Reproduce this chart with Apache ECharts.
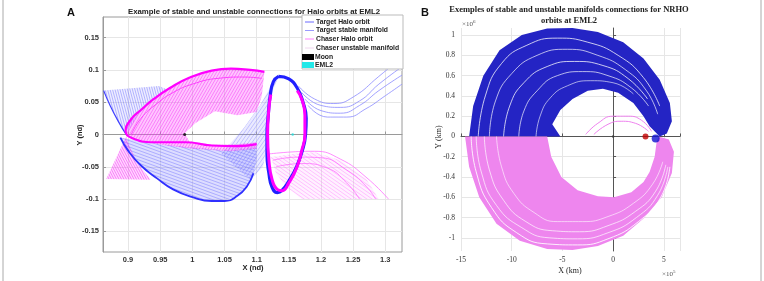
<!DOCTYPE html>
<html><head><meta charset="utf-8">
<script src="https://cdn.jsdelivr.net/npm/echarts@6/dist/echarts.min.js"></script>
<style>html,body{margin:0;padding:0;background:#fff}#c{width:764px;height:281px}</style>
</head><body><div id="c"></div>
<script>
// ---------- Panel A data (nondimensional) ----------
const A_xTicks = [0.9, 0.95, 1, 1.05, 1.1, 1.15, 1.2, 1.25, 1.3];
const A_yTicks = [-0.15, -0.1, -0.05, 0, 0.05, 0.1, 0.15];
const A_moon = [[0.988, 0]];
const A_eml2 = [[1.156, 0]];
const A_targetHalo = [[1.134,0.09],[1.15,0.086],[1.163,0.072],[1.172,0.05],[1.177,0.025],[1.176,0],[1.171,-0.025],[1.162,-0.05],[1.15,-0.072],[1.139,-0.087],[1.132,-0.09],[1.124,-0.082],[1.119,-0.06],[1.116,-0.03],[1.116,0],[1.118,0.03],[1.121,0.06],[1.126,0.082],[1.134,0.09]];
const A_chaserHalo = [[1.122,0.062],[1.119,0.04],[1.117,0],[1.119,-0.04],[1.124,-0.07],[1.132,-0.085],[1.14,-0.087],[1.15,-0.075],[1.162,-0.052],[1.17,-0.025],[1.175,0],[1.175,0.03],[1.17,0.055],[1.163,0.068]];
const A_stableLower = [[0.888,-0.005],[0.9,-0.025],[0.92,-0.048],[0.945,-0.068],[0.97,-0.085],[1.0,-0.097],[1.03,-0.103],[1.05,-0.103],[1.07,-0.095],[1.085,-0.08],[1.095,-0.06],[1.1,-0.04],[1.1,-0.02],[1.06,-0.025],[1.0,-0.02],[0.95,-0.015],[0.91,-0.008]];
const A_stableEdge = [[0.888,-0.005],[0.9,-0.025],[0.92,-0.048],[0.945,-0.068],[0.97,-0.085],[1.0,-0.097],[1.03,-0.103],[1.05,-0.103],[1.07,-0.095],[1.085,-0.08],[1.095,-0.06]];
const A_stableFan = [[0.862,0.068],[0.948,0.075],[0.96,0.07],[0.935,0.05],[0.915,0.03],[0.897,0],[0.885,0.02],[0.872,0.045]];
const A_stableFanEdge = [[0.862,0.068],[0.872,0.045],[0.885,0.02],[0.897,0]];
const A_stableDiag = [[1.045,-0.03],[1.08,0.01],[1.105,0.045],[1.125,0.08],[1.134,0.09],[1.122,0.06],[1.117,0.02],[1.115,-0.02],[1.11,-0.05],[1.09,-0.07]];
const A_stableR1 = [[1.165,0.075],[1.19,0.055],[1.22,0.048],[1.25,0.058],[1.29,0.09],[1.326,0.12]];
const A_stableR2 = [[1.17,0.065],[1.2,0.045],[1.23,0.042],[1.26,0.052],[1.29,0.078],[1.326,0.105]];
const A_stableR3 = [[1.175,0.055],[1.2,0.037],[1.23,0.033],[1.26,0.045],[1.29,0.068],[1.326,0.092]];
const A_stableR4 = [[1.18,0.045],[1.21,0.027],[1.24,0.027],[1.27,0.04],[1.3,0.06],[1.326,0.078]];
const A_unstableArc = [[1.1,-0.015],[1.07,-0.018],[1.03,-0.017],[0.99,-0.012],[0.94,-0.012],[0.905,-0.005],[0.896,0.006],[0.905,0.024],[0.92,0.038],[0.94,0.055],[0.965,0.072],[0.995,0.088],[1.03,0.099],[1.06,0.102],[1.09,0.1],[1.112,0.097]];
const A_unstableArc2 = [[0.905,0.0],[0.92,0.025],[0.945,0.048],[0.97,0.065],[1.0,0.078],[1.04,0.087],[1.08,0.089],[1.108,0.087]];
const A_unstableFan = [[0.896,0.006],[0.905,0.024],[0.92,0.038],[0.94,0.055],[0.965,0.072],[0.995,0.088],[1.03,0.099],[1.06,0.102],[1.09,0.1],[1.112,0.097],[1.108,0.06],[1.1,0.035],[1.07,0.03],[1.035,0.036],[1.005,0.018],[0.988,0.002],[0.995,-0.01],[1.03,-0.016],[1.07,-0.015],[1.1,-0.012],[1.1,-0.022],[1.06,-0.026],[1.0,-0.022],[0.96,-0.017],[0.93,-0.012],[0.905,-0.006]];
const A_unstableTri = [[0.866,-0.069],[0.897,-0.003],[0.903,-0.02],[0.915,-0.045],[0.935,-0.07]];
const A_unstableTail = [[1.122,-0.035],[1.16,-0.03],[1.19,-0.027],[1.23,-0.04],[1.27,-0.068],[1.29,-0.1],[1.17,-0.1],[1.145,-0.08],[1.13,-0.06]];
const A_tail1 = [[1.12,-0.03],[1.155,-0.027],[1.19,-0.026],[1.23,-0.038],[1.27,-0.066],[1.305,-0.1]];
const A_tail2 = [[1.125,-0.04],[1.165,-0.035],[1.2,-0.036],[1.24,-0.055],[1.27,-0.08],[1.285,-0.1]];
const A_tail3 = [[1.13,-0.05],[1.17,-0.045],[1.21,-0.052],[1.24,-0.075],[1.26,-0.1]];

// ---------- Panel B data (x: 1e5 km, y: 1e6 km) ----------
const B_xTicks = [-15, -10, -5, 0, 5];
const B_yTicks = [-1, -0.8, -0.6, -0.4, -0.2, 0, 0.2, 0.4, 0.6, 0.8, 1];
const B_stableBand = [[-14.2,0],[-13.8,0.3],[-12.8,0.6],[-11.2,0.85],[-9,1.0],[-6.5,1.065],[-4,1.07],[-1.5,1.03],[1,0.93],[3,0.77],[4.6,0.56],[5.6,0.33],[5.8,0.15],[5.3,0.03],[4.6,0],[3.6,0.1],[3.0,0.2],[2.0,0.33],[0.5,0.43],[-1,0.47],[-2.5,0.45],[-4,0.37],[-5.2,0.26],[-6,0.12],[-5.2,0],[-14.2,0]];
const B_stableGap1 = [[-13.3,0],[-12.6,0.4],[-11,0.72],[-8.5,0.9],[-5.5,0.97],[-2.5,0.93],[0.5,0.8],[3,0.58],[4.6,0.3]];
const B_stableGap2 = [[-12.2,0],[-11.6,0.35],[-10,0.62],[-7.5,0.8],[-4.5,0.86],[-1.5,0.8],[1.2,0.66],[3.3,0.45],[4.4,0.22]];
const B_stableGap3 = [[-10.8,0],[-10.2,0.3],[-8.8,0.53],[-6.5,0.69],[-3.8,0.74],[-1,0.7],[1.5,0.57],[3.4,0.37]];
const B_stableGap4 = [[-9.3,0],[-8.8,0.25],[-7.5,0.45],[-5.5,0.6],[-3,0.64],[-0.5,0.6],[1.8,0.48],[3.5,0.3]];
const B_stableGap5 = [[-7.6,0],[-7.2,0.2],[-6.2,0.38],[-4.5,0.5],[-2.2,0.55],[0,0.53],[2,0.42]];
const B_unstableBand = [[-14.6,0],[-14.2,-0.3],[-13.2,-0.6],[-11.5,-0.86],[-9.2,-1.03],[-6.5,-1.11],[-4,-1.12],[-1.5,-1.08],[1,-0.98],[3,-0.81],[4.8,-0.6],[5.8,-0.36],[6.0,-0.15],[5.5,-0.03],[4.5,0],[4.3,-0.05],[4.1,-0.2],[3.6,-0.35],[3.0,-0.45],[1.8,-0.55],[0.1,-0.6],[-1.5,-0.59],[-3.5,-0.53],[-5.1,-0.4],[-6.1,-0.2],[-6.5,0]];
const B_unstableGap1 = [[-14.0,0],[-13.5,-0.35],[-12.0,-0.7],[-9.5,-0.95],[-6.5,-1.06],[-3.5,-1.07],[-0.5,-1.01],[2.5,-0.84],[4.7,-0.6],[5.6,-0.3]];
const B_unstableGap2 = [[-13.5,0],[-13,-0.35],[-11.5,-0.68],[-9,-0.9],[-6.3,-1.0],[-3.5,-1.01],[-0.5,-0.95],[2.3,-0.8],[4.4,-0.58],[5.4,-0.3]];
const B_unstableGap3 = [[-12.7,0],[-12.2,-0.33],[-10.8,-0.63],[-8.6,-0.84],[-6,-0.93],[-3.3,-0.94],[-0.5,-0.88],[2.2,-0.74],[4.2,-0.54],[5.2,-0.28]];
const B_unstableGap4 = [[-11.5,0],[-11,-0.3],[-9.8,-0.56],[-7.8,-0.75],[-5.5,-0.84],[-3,-0.84],[-0.5,-0.79],[2,-0.66],[3.9,-0.47],[4.9,-0.25]];
const B_pinkArc1 = [[-2.7,0.02],[-1.5,0.13],[0,0.2],[1.5,0.2],[2.8,0.16],[3.8,0.05]];
const B_pinkArc2 = [[-1.9,0.02],[-0.5,0.12],[0.8,0.15],[2.2,0.13],[3.5,0.05]];
const B_origin = [[0, 0]];
const B_redBody = [[3.2, 0]];
const B_nrho = [[4.2, -0.02]];

const SANS = 'Liberation Sans, Arial, sans-serif';
const SERIF = 'Liberation Serif, Times New Roman, serif';

// hatch pattern (style only): thin parallel lines across the whole canvas
function hatch(bg, lineColor, angleDeg, spacing, lw) {
  const cv = document.createElement('canvas');
  cv.width = 764; cv.height = 281;
  const ctx = cv.getContext('2d');
  ctx.fillStyle = bg; ctx.fillRect(0, 0, 764, 281);
  const a = angleDeg * Math.PI / 180, dx = Math.cos(a), dy = Math.sin(a);
  ctx.strokeStyle = lineColor; ctx.lineWidth = lw || 0.6;
  for (let k = -900; k <= 900; k += spacing) {
    const cx = 382 - dy * k, cy = 140 + dx * k;
    ctx.beginPath(); ctx.moveTo(cx - dx * 900, cy - dy * 900); ctx.lineTo(cx + dx * 900, cy + dy * 900); ctx.stroke();
  }
  return { image: cv, repeat: 'no-repeat' };
}

function poly(ax, pts, fill, z) {
  return {
    type: 'custom', xAxisIndex: ax, yAxisIndex: ax, coordinateSystem: 'cartesian2d',
    data: [pts[0]], silent: true, z: z || 2, clip: true,
    renderItem: function (params, api) {
      return { type: 'polygon', shape: { points: pts.map(p => api.coord(p)) }, style: { fill: fill } };
    }
  };
}
function line(ax, pts, color, w, z) {
  return { type: 'line', xAxisIndex: ax, yAxisIndex: ax, data: pts, smooth: true,
    showSymbol: false, symbol: 'none', silent: true, z: z || 3,
    lineStyle: { color: color, width: w }, clip: true };
}
function dot(ax, pts, color, size, z) {
  return { type: 'scatter', xAxisIndex: ax, yAxisIndex: ax, data: pts, symbolSize: size,
    itemStyle: { color: color }, silent: true, z: z || 6 };
}

const gridLine = { show: true, lineStyle: { color: '#e6e6e6', width: 1 } };
const LZ = 100;
const legFont = 'bold 6.8px ' + SANS;

const option = {
  animation: false,
  grid: [
    { left: 103, top: 17, width: 299, height: 235, show: true, borderColor: '#9a9a9a', borderWidth: 1, backgroundColor: 'transparent' },
    { left: 461, top: 28, width: 219, height: 223 }
  ],
  xAxis: [
    { type: 'value', gridIndex: 0, min: 0.861, max: 1.326,
      axisLine: { show: true, lineStyle: { color: '#9a9a9a' } },
      axisTick: { show: true, inside: true, length: 3, customValues: A_xTicks, lineStyle: { color: '#9a9a9a' } },
      axisLabel: { customValues: A_xTicks, fontSize: 7.5, color: '#333', margin: 4, fontFamily: SANS, fontWeight: 'bold' },
      splitLine: gridLine },
    { type: 'value', gridIndex: 1, min: -15, max: 6.6, interval: 5,
      axisLine: { show: true, lineStyle: { color: '#555' } },
      axisTick: { show: true, inside: true, length: 3, lineStyle: { color: '#555' } },
      axisLabel: { fontSize: 7.5, color: '#333', margin: 5, fontFamily: SERIF,
        formatter: v => (v > 6 || v < -15) ? '' : String(v) },
      splitLine: gridLine }
  ],
  yAxis: [
    { type: 'value', gridIndex: 0, min: -0.182, max: 0.182,
      axisLine: { show: true, lineStyle: { color: '#9a9a9a' } },
      axisTick: { show: true, inside: true, length: 3, customValues: A_yTicks, lineStyle: { color: '#9a9a9a' } },
      axisLabel: { customValues: A_yTicks, fontSize: 7.5, color: '#333', margin: 4, fontFamily: SANS, fontWeight: 'bold' },
      splitLine: gridLine },
    { type: 'value', gridIndex: 1, min: -1.13, max: 1.07,
      axisLine: { show: true, lineStyle: { color: '#555' } },
      axisTick: { show: true, inside: true, length: 3, customValues: B_yTicks, lineStyle: { color: '#555' } },
      axisLabel: { customValues: B_yTicks, fontSize: 7.5, color: '#333', margin: 6, fontFamily: SERIF },
      splitLine: gridLine }
  ],
  series: [
    // Panel A
    poly(0, A_stableLower, hatch('rgba(120,120,255,0.25)', 'rgba(70,70,255,0.55)', 20, 3.0)),
    poly(0, A_stableFan, hatch('rgba(140,140,255,0.15)', 'rgba(70,70,255,0.6)', 75, 2.4)),
    poly(0, A_stableDiag, hatch('rgba(140,140,255,0.18)', 'rgba(90,90,255,0.5)', -55, 3)),
    poly(0, A_unstableFan, hatch('rgba(255,80,255,0.33)', 'rgba(240,0,240,0.6)', -60, 2.6)),
    poly(0, A_unstableTri, hatch('rgba(255,90,255,0.25)', 'rgba(240,0,240,0.65)', 62, 2.2)),
    poly(0, A_unstableTail, hatch('rgba(255,120,255,0.1)', 'rgba(255,60,255,0.45)', 35, 3)),
    line(0, A_stableEdge, '#3030ff', 1.8),
    line(0, A_stableFanEdge, '#4040ff', 1.2),
    line(0, A_stableR1, '#8a8aff', 0.8),
    line(0, A_stableR2, '#8a8aff', 0.8),
    line(0, A_stableR3, '#8a8aff', 0.8),
    line(0, A_stableR4, '#8a8aff', 0.8),
    line(0, A_unstableArc, '#ff00ff', 2.2),
    line(0, A_unstableArc2, '#ff40ff', 1.0),
    line(0, A_tail1, '#ff70ff', 0.8),
    line(0, A_tail2, '#ff70ff', 0.8),
    line(0, A_tail3, '#ff70ff', 0.8),
    line(0, A_targetHalo, '#2020ff', 3.2, 4),
    line(0, A_chaserHalo, '#ff00ff', 3.0, 5),
    dot(0, A_moon, '#000', 3),
    dot(0, A_eml2, '#22dddd', 2.5),
    // Panel B
    poly(1, B_stableBand, '#2424c4'),
    poly(1, B_unstableBand, '#ee86ee'),
    line(1, B_stableGap1, 'rgba(255,255,255,0.75)', 1),
    line(1, B_stableGap2, 'rgba(255,255,255,0.75)', 0.9),
    line(1, B_stableGap3, 'rgba(255,255,255,0.75)', 1),
    line(1, B_stableGap4, 'rgba(255,255,255,0.75)', 0.9),
    line(1, B_stableGap5, 'rgba(255,255,255,0.75)', 0.8),
    line(1, B_unstableGap1, 'rgba(255,255,255,0.85)', 1),
    line(1, B_unstableGap2, 'rgba(255,255,255,0.85)', 0.8),
    line(1, B_unstableGap3, 'rgba(255,255,255,0.85)', 0.8),
    line(1, B_unstableGap4, 'rgba(255,255,255,0.85)', 0.7),
    line(1, B_pinkArc1, '#ee80ee', 1),
    line(1, B_pinkArc2, '#ee80ee', 1),
    dot(1, B_origin, '#333', 2.5),
    dot(1, B_redBody, '#c00000', 6),
    dot(1, B_nrho, '#1010d0', 8)
  ],
  graphic: [
    { type: 'rect', shape: { x: 3, y: -2, width: 758, height: 286 }, style: { fill: 'none', stroke: '#aaa', lineWidth: 1 }, silent: true },
    { type: 'text', left: 67, top: 7, style: { text: 'A', font: 'bold 11px ' + SANS, fill: '#111' } },
    { type: 'text', x: 254, y: 12, style: { text: 'Example of stable and unstable connections for Halo orbits at EML2', font: 'bold 7.8px ' + SANS, fill: '#222', textAlign: 'center', textVerticalAlign: 'middle' } },
    { type: 'text', x: 253, y: 268, style: { text: 'X (nd)', font: 'bold 7.5px ' + SANS, fill: '#222', textAlign: 'center', textVerticalAlign: 'middle' } },
    { type: 'text', x: 80, y: 135, rotation: Math.PI / 2, style: { text: 'Y (nd)', font: 'bold 7.5px ' + SANS, fill: '#222', textAlign: 'center', textVerticalAlign: 'middle' } },
    // legend
    { type: 'rect', z: LZ, shape: { x: 302, y: 15, width: 101, height: 54 }, style: { fill: '#fff', stroke: '#bbb', lineWidth: 1 } },
    { type: 'line', z: LZ, shape: { x1: 305, y1: 22, x2: 314, y2: 22 }, style: { stroke: '#6a6aff', lineWidth: 1 } },
    { type: 'line', z: LZ, shape: { x1: 305, y1: 30.5, x2: 314, y2: 30.5 }, style: { stroke: '#9a9aff', lineWidth: 1 } },
    { type: 'line', z: LZ, shape: { x1: 305, y1: 39, x2: 314, y2: 39 }, style: { stroke: '#ff80ff', lineWidth: 1 } },
    { type: 'line', z: LZ, shape: { x1: 305, y1: 48, x2: 314, y2: 48 }, style: { stroke: '#f0d6f0', lineWidth: 1 } },
    { type: 'rect', z: LZ, shape: { x: 302, y: 54, width: 12, height: 6 }, style: { fill: '#000' } },
    { type: 'rect', z: LZ, shape: { x: 302, y: 62, width: 12, height: 6 }, style: { fill: '#22e8e8' } },
    { type: 'text', z: LZ, x: 316, y: 22, style: { text: 'Target Halo orbit', font: legFont, fill: '#222', textVerticalAlign: 'middle' } },
    { type: 'text', z: LZ, x: 316, y: 30.5, style: { text: 'Target stable manifold', font: legFont, fill: '#222', textVerticalAlign: 'middle' } },
    { type: 'text', z: LZ, x: 316, y: 39, style: { text: 'Chaser Halo orbit', font: legFont, fill: '#222', textVerticalAlign: 'middle' } },
    { type: 'text', z: LZ, x: 316, y: 48, style: { text: 'Chaser unstable manifold', font: legFont, fill: '#222', textVerticalAlign: 'middle' } },
    { type: 'text', z: LZ, x: 315, y: 57, style: { text: 'Moon', font: legFont, fill: '#222', textVerticalAlign: 'middle' } },
    { type: 'text', z: LZ, x: 315, y: 65.5, style: { text: 'EML2', font: legFont, fill: '#222', textVerticalAlign: 'middle' } },
    // panel B texts
    { type: 'text', left: 421, top: 7, style: { text: 'B', font: 'bold 11px ' + SANS, fill: '#111' } },
    { type: 'text', x: 569, y: 10, style: { text: 'Exemples of stable and unstable manifolds connections for NRHO', font: 'bold 8.5px ' + SERIF, fill: '#222', textAlign: 'center', textVerticalAlign: 'middle' } },
    { type: 'text', x: 569, y: 21, style: { text: 'orbits at EML2', font: 'bold 8.5px ' + SERIF, fill: '#222', textAlign: 'center', textVerticalAlign: 'middle' } },
    { type: 'text', x: 570, y: 271, style: { text: 'X (km)', font: '8px ' + SERIF, fill: '#222', textAlign: 'center', textVerticalAlign: 'middle' } },
    { type: 'text', x: 439, y: 137, rotation: Math.PI / 2, style: { text: 'Y (km)', font: '8px ' + SERIF, fill: '#222', textAlign: 'center', textVerticalAlign: 'middle' } },
    { type: 'text', x: 662, y: 274, style: { text: '{a|×10}{s|5}', textVerticalAlign: 'middle',
        rich: { a: { font: '7px ' + SERIF, fill: '#555' }, s: { font: '5px ' + SERIF, fill: '#555', verticalAlign: 'top', padding: [0, 0, 5, 0] } } } },
    { type: 'text', x: 462, y: 24, style: { text: '{a|×10}{s|6}', textVerticalAlign: 'middle',
        rich: { a: { font: '7px ' + SERIF, fill: '#555' }, s: { font: '5px ' + SERIF, fill: '#555', verticalAlign: 'top', padding: [0, 0, 5, 0] } } } }
  ]
};
const chart = echarts.init(document.getElementById('c'), null, { renderer: 'canvas', width: 764, height: 281 });
chart.setOption(option);
</script></body></html>
